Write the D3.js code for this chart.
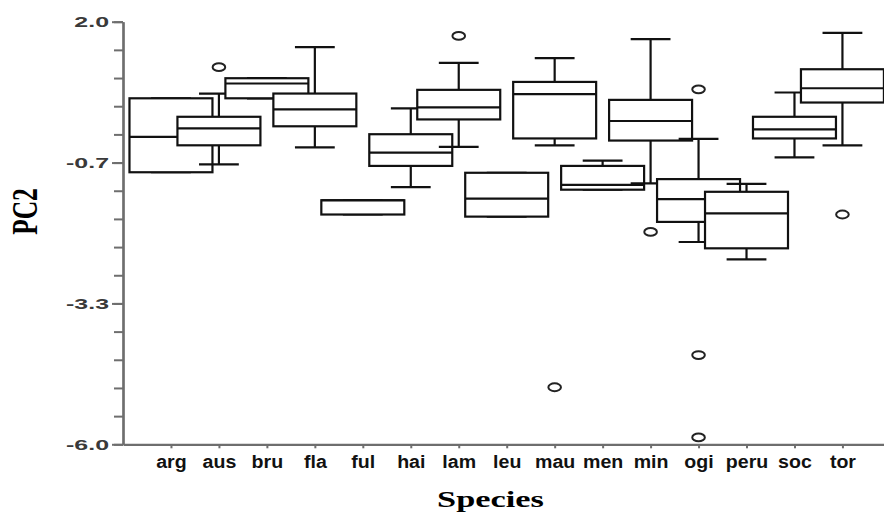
<!DOCTYPE html>
<html>
<head>
<meta charset="utf-8">
<script src="https://cdn.jsdelivr.net/npm/d3@7"></script>
<style>
  html, body { margin: 0; padding: 0; background: #fff; }
  svg { display: block; }
</style>
</head>
<body>
<svg id="chart" width="884" height="514"></svg>
<script>
// ---- data ----
const species      = ["arg","aus","bru","fla","ful","hai","lam","leu","mau","men","min","ogi","peru","soc","tor"];
const whiskerHigh  = [ 0.55,  0.64,  0.93,  1.52, -1.38,  0.36,  1.22, -0.86,  1.31, -0.63,  1.67, -0.22, -1.07,  0.66,  1.79];
const quartile3    = [ 0.55,  0.20,  0.93,  0.64, -1.38, -0.13,  0.71, -0.86,  0.86, -0.73,  0.52, -0.98, -1.22,  0.20,  1.10];
const medians      = [-0.18, -0.02,  0.83,  0.34, -1.38, -0.48,  0.38, -1.35,  0.63, -1.09,  0.12, -1.36, -1.63, -0.04,  0.74];
const quartile1    = [-0.85, -0.34,  0.55,  0.02, -1.65, -0.73,  0.15, -1.69, -0.21, -1.18, -0.25, -1.79, -2.29, -0.21,  0.47];
const whiskerLow   = [-0.85, -0.70,  0.55, -0.38, -1.65, -1.13, -0.37, -1.69, -0.34, -1.18, -1.06, -2.17, -2.50, -0.57, -0.34];
const outliers     = [[], [1.14], [], [], [], [], [1.73], [], [-4.92], [], [-1.98], [0.72, -4.31, -5.87], [], [], [-1.65]];
const yTickValues  = [2.0, -0.667, -3.333, -6.0];
const yTickLabels  = ["2.0", "-0.7", "-3.3", "-6.0"];
const xTitle = "Species";
const yTitle = "PC2";

// ---- layout ----
const svg = d3.select("#chart");
svg.append("rect").attr("width", 884).attr("height", 514).attr("fill", "#fff");

const x = d3.scaleLinear().domain([0, 16]).range([123, 890.4]);
const y = d3.scaleLinear().domain([-6, 2]).range([444.3, 21.7]);

const axisColor = "#6e6e6e";
const sansFont = "'Liberation Sans', Arial, 'DejaVu Sans', sans-serif";
const serifFont = "'Liberation Serif', 'Times New Roman', 'DejaVu Serif', serif";

// boxes
const boxW = 1.73;   // in category units
const capW = 0.83;
const rows = species.map((s, i) => ({
  s, pos: i + 1,
  hi: whiskerHigh[i], q3: quartile3[i], med: medians[i], q1: quartile1[i], lo: whiskerLow[i],
  out: outliers[i]
}));

const plot = svg.append("g");
rows.forEach(d => {
  const g = plot.append("g");
  const cx = x(d.pos);
  const bw = x(boxW) - x(0), cw = x(capW) - x(0);
  const line = (x1, y1, x2, y2) => g.append("line")
      .attr("x1", x1).attr("y1", y1).attr("x2", x2).attr("y2", y2)
      .attr("stroke", "#111").attr("stroke-width", 2.2);
  // whiskers
  line(cx, y(d.hi), cx, y(d.lo));
  line(cx - cw / 2, y(d.hi), cx + cw / 2, y(d.hi));
  line(cx - cw / 2, y(d.lo), cx + cw / 2, y(d.lo));
  // box
  g.append("rect")
    .attr("x", cx - bw / 2).attr("y", y(d.q3))
    .attr("width", bw).attr("height", Math.max(0.5, y(d.q1) - y(d.q3)))
    .attr("fill", "#fff").attr("stroke", "#111").attr("stroke-width", 2.2);
  // median
  line(cx - bw / 2, y(d.med), cx + bw / 2, y(d.med));
  // outliers
  d.out.forEach(v => {
    g.append("ellipse")
      .attr("cx", cx).attr("cy", y(v))
      .attr("rx", 6.3).attr("ry", 3.9)
      .attr("fill", "#fff").attr("stroke", "#222").attr("stroke-width", 2);
  });
});

// ---- y axis ----
const minorTicks = d3.range(0, 16).map(k => 2 - k * 8 / 15);
const yMinor = svg.append("g").attr("transform", `translate(${x(0)},0)`)
  .call(d3.axisLeft(y).tickValues(minorTicks).tickSize(9).tickSizeOuter(0).tickFormat(""));
const yMajor = svg.append("g").attr("transform", `translate(${x(0)},0)`)
  .call(d3.axisLeft(y).tickValues(yTickValues).tickSize(11).tickSizeOuter(0)
        .tickFormat((v, i) => yTickLabels[i]));
[yMinor, yMajor].forEach(g => {
  g.select(".domain").attr("stroke", axisColor).attr("stroke-width", 2.2);
  g.selectAll(".tick line").attr("stroke", axisColor).attr("stroke-width", 2);
});
yMajor.selectAll(".tick text")
  .attr("x", null).attr("dy", null)
  .attr("transform", "translate(-14,4.8) scale(1.72,1)")
  .attr("text-anchor", "end")
  .attr("fill", "#3a3a3a")
  .style("font-family", sansFont).style("font-weight", "bold").style("font-size", "14.5px");

// ---- x axis ----
const xAxis = svg.append("g").attr("transform", `translate(0,${y(-6)})`)
  .call(d3.axisBottom(x).tickValues(d3.range(1, species.length + 1))
        .tickSize(4).tickSizeOuter(0).tickFormat(v => species[v - 1]));
xAxis.select(".domain").attr("stroke", axisColor).attr("stroke-width", 2.2);
xAxis.selectAll(".tick line").attr("stroke", axisColor).attr("stroke-width", 2);
xAxis.selectAll(".tick text")
  .attr("y", null).attr("dy", null)
  .attr("transform", "translate(0,24) scale(1.12,1)")
  .attr("text-anchor", "middle")
  .attr("fill", "#111")
  .style("font-family", sansFont).style("font-weight", "bold").style("font-size", "17.5px");

// ---- titles ----
svg.append("text")
  .attr("transform", "translate(490.5,506.5) scale(1.43,1)")
  .attr("text-anchor", "middle")
  .style("font-family", serifFont).style("font-weight", "bold").style("font-size", "24px")
  .attr("fill", "#000")
  .text(xTitle);
svg.append("text")
  .attr("transform", "translate(36.5,211.5) rotate(-90) scale(1,1.4)")
  .attr("text-anchor", "middle")
  .style("font-family", serifFont).style("font-weight", "bold").style("font-size", "25.5px")
  .attr("fill", "#000")
  .text(yTitle);
</script>
</body>
</html>
